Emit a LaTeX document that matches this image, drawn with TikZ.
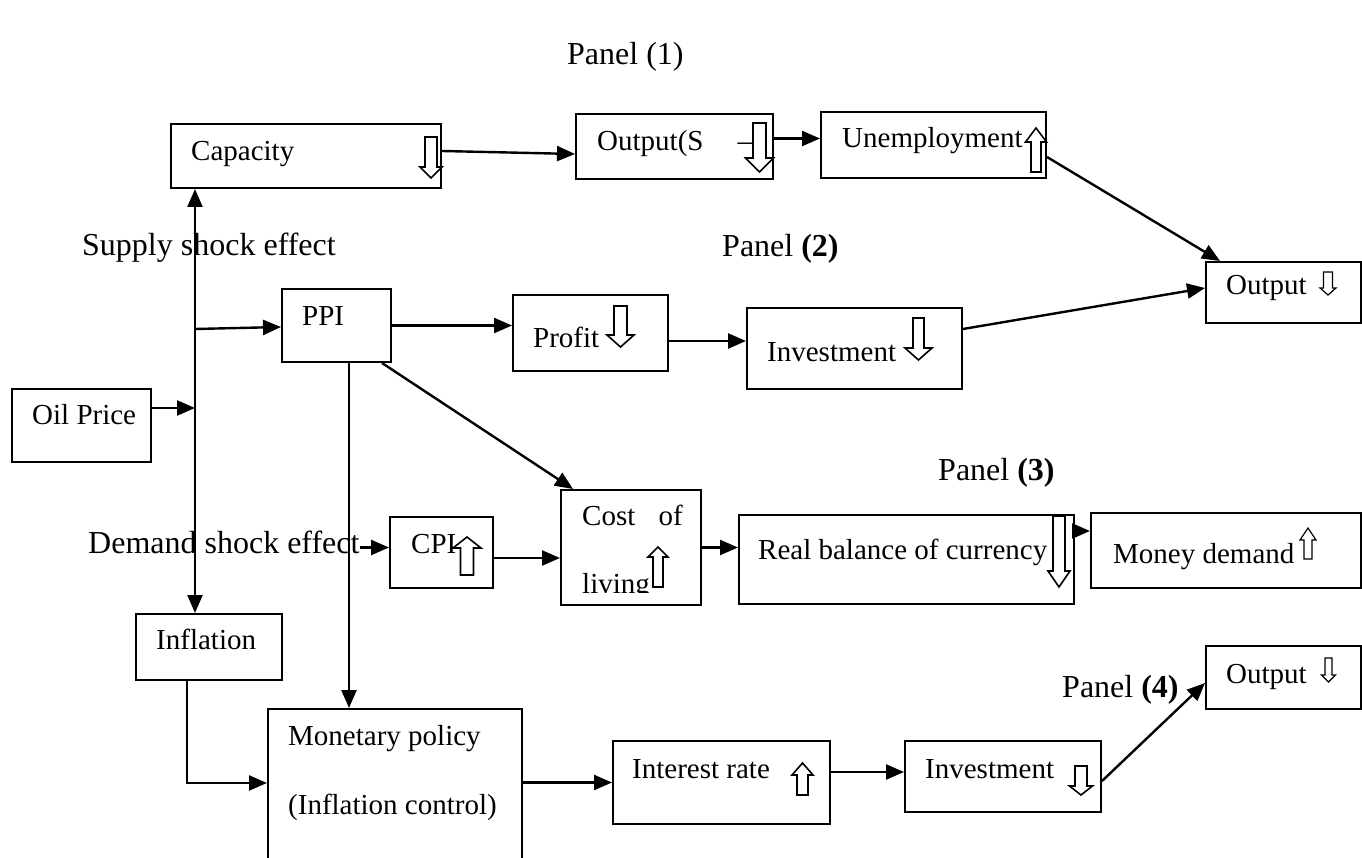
\documentclass[tikz,border=0pt]{standalone}
\usepackage{fontspec}
\setmainfont{Liberation Serif}
\usetikzlibrary{arrows.meta}
\newcommand\harrow[7][1.6pt]{%
  \draw[hol,line width=#1] ({#2-#3},#5) -- ({#2+#3},#5) -- ({#2+#3},#6) -- ({#2+#4},#6) -- (#2,#7) -- ({#2-#4},#6) -- ({#2-#3},#6) -- cycle;}
\begin{document}
\begin{tikzpicture}[x=1pt,y=-1pt,
  box/.style={draw,line width=2pt,inner sep=0pt,anchor=north west},
  txt/.style={anchor=base west,inner sep=0pt,font=\fontsize{29}{34}\selectfont},
  lab/.style={anchor=base west,inner sep=0pt,font=\fontsize{32}{37}\selectfont},
  arr/.style={line width=2.4pt,-{Triangle[length=18pt,width=15pt]}},
  hol/.style={draw,fill=white,line join=miter}]
\useasboundingbox (0,0) rectangle (1362,858);
\fill[white] (0,0) rectangle (1362,858);

% boxes
\node[box,minimum width=270,minimum height=64] (cap) at (170,123) {};
\node[box,minimum width=197,minimum height=65] (os) at (575,113) {};
\node[box,minimum width=225,minimum height=66] (un) at (820,111) {};
\node[box,minimum width=155,minimum height=61] (outR) at (1205,261) {};
\node[box,minimum width=109,minimum height=73] (ppi) at (281,288) {};
\node[box,minimum width=155,minimum height=76] (prof) at (512,294) {};
\node[box,minimum width=215,minimum height=81] (inv2) at (746,307) {};
\node[box,minimum width=139,minimum height=73] (oil) at (11,388) {};
\node[box,minimum width=103,minimum height=71] (cpi) at (389,516) {};
\node[box,minimum width=140,minimum height=115] (col) at (560,489) {};
\node[box,minimum width=335,minimum height=89] (rb) at (738,514) {};
\node[box,minimum width=270,minimum height=75] (md) at (1090,512) {};
\node[box,minimum width=146,minimum height=66] (infl) at (135,613) {};
\node[box,minimum width=254,minimum height=152] (mon) at (267,708) {};
\node[box,minimum width=217,minimum height=83] (ir) at (612,740) {};
\node[box,minimum width=196,minimum height=71] (inv4) at (904,740) {};
\node[box,minimum width=155,minimum height=63] (out4) at (1205,645) {};

% texts
\node[txt] (tcap) at (191,161) {Capacity};
\node[txt] (tos) at (597,151) {Output(S\hspace{34pt}–};
\node[txt] (tun) at (842,148) {Unemployment};
\node[txt] (toutR) at (1226,295) {Output};
\node[txt] (tppi) at (302,326) {PPI};
\node[txt] (tprof) at (533,348) {Profit};
\node[txt] (tinv2) at (767,361) {Investment};
\node[txt] (toil) at (32,424) {Oil Price};
\node[txt] (tcpi) at (411,553) {CPI};
\node[txt] (tcost) at (582,525) {Cost\hspace{16pt} of};
\begin{scope}
\clip (560,489) rectangle (700,592);
\node[txt] (tliv) at (582,593) {living};
\end{scope}
\node[txt] (trb) at (758,559) {Real balance of currency};
\node[txt] (tmd) at (1113,563) {Money demand};
\node[txt] (tinfl) at (156,649) {Inflation};
\node[txt] (tmon1) at (288,745) {Monetary policy};
\node[txt] (tmon2) at (288,814) {(Inflation control)};
\node[txt] (tir) at (632,778) {Interest rate};
\node[txt] (tinv4) at (925,778) {Investment};
\node[txt] (tout4) at (1226,683) {Output};

% labels
\node[lab] (slab) at (82,256) {Supply shock effect};
\node[lab] (dlab) at (88,553) {Demand shock effect};
\node[lab] (p1) at (567,65) {Panel (1)};
\node[lab] (p2) at (722,257) {Panel \textbf{(2)}};
\node[lab] (p3) at (938,480) {Panel \textbf{(3)}};
\node[lab] (p4) at (1062,697) {Panel \textbf{(4)}};

% connectors
\coordinate (junc) at (195,408);
\coordinate (sj) at (195,329);
\draw[arr] (junc) -- (junc |- cap.south);
\draw[arr] (junc) -- (junc |- infl.north);
\draw[arr] (oil.east |- junc) -- (junc);
\draw[arr] (sj) -- ([yshift=-1.5pt]ppi.west);
\draw[arr] ([yshift=5pt]cap.east) -- ([yshift=-7.5pt]os.west);
\draw[arr] ([yshift=8pt]os.east) -- ([yshift=8pt]os.east -| un.west);
\draw[arr] ([yshift=-12pt]un.east) -- ([xshift=15pt]outR.north west);
\draw[arr] ([yshift=19.5pt]inv2.east) -- ([yshift=4.5pt]outR.west);
\draw[arr] (ppi.east) -- (ppi.east -| prof.west);
\draw[arr] ([yshift=-8pt]prof.east) -- ([yshift=-8pt]prof.east -| inv2.west);
\draw[arr] ([xshift=-10pt]ppi.south east) -- ([xshift=13pt]col.north west);
\draw[arr] ([xshift=68pt]ppi.south west) -- ([xshift=68pt]ppi.south west |- mon.north);
\draw[arr] ([xshift=52pt]infl.south west) |- ([yshift=2pt]mon.west);
\draw[arr] (ir.west -| mon.east) -- (ir.west);
\draw[arr] ([yshift=4.5pt]inv4.west -| ir.east) -- ([yshift=4.5pt]inv4.west);
\draw[arr] ([yshift=-4.5pt]inv4.east) -- ([yshift=-5.5pt]out4.west);
\draw[arr] (col.east) -- (col.east -| rb.west);
\draw[arr] ([yshift=28.5pt]rb.east) -- ([yshift=28.5pt]rb.east -| md.west);
\draw[arr] ([yshift=-5.5pt]cpi.east) -- ([yshift=-5.5pt]cpi.east -| col.west);
\draw[arr] ([yshift=-5.6pt]dlab.east) -- ([yshift=-5.6pt]dlab.east -| cpi.west);

% hollow arrows
\harrow{431}{6}{11}{137}{167}{178}
\harrow{759.5}{6.5}{14}{123}{158}{172}
\harrow{1036}{5}{10.5}{172}{142}{128}
\harrow{620.5}{6.5}{13.5}{306}{335}{347}
\harrow{918.5}{5.5}{13.5}{318}{348}{360}
\harrow{467}{6.5}{14}{575}{548}{537}
\harrow{658}{5}{10}{587}{557}{547}
\harrow{1059}{6}{11}{516}{571}{587}
\harrow[1.2pt]{1308}{4}{8}{559}{540}{528}
\harrow[1.2pt]{1328}{4.5}{8}{272}{288}{295}
\harrow{802.5}{5.5}{10.5}{795}{775}{763}
\harrow{1081}{6}{11.5}{766}{786}{795}
\harrow[1.2pt]{1328.5}{3.5}{7}{658}{675}{682}
\end{tikzpicture}
\end{document}
